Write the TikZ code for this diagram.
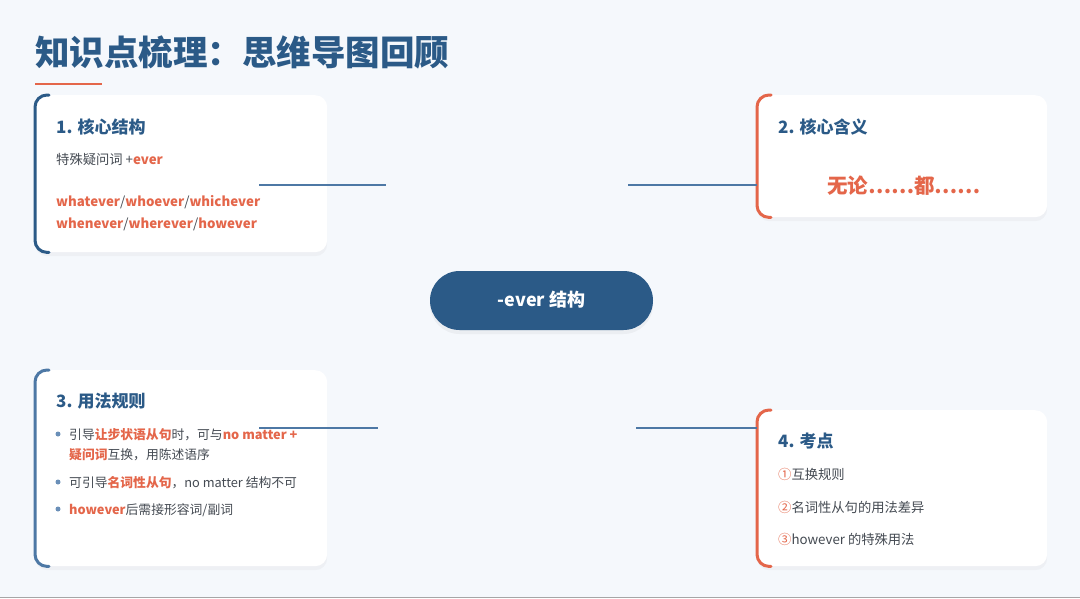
\documentclass[tikz,border=0pt]{standalone}
\usepackage{fontspec}
\setmainfont{Noto Sans CJK SC}
\usetikzlibrary{positioning,calc,shadows}
\definecolor{pagebg}{HTML}{F5F8FC}
\definecolor{navy}{HTML}{2B5A87}
\definecolor{linkblue}{HTML}{4D78A5}
\definecolor{accentor}{HTML}{E4664A}
\definecolor{inkgrey}{HTML}{444A52}
\definecolor{dotblue}{HTML}{6A8FB8}
\newcommand\hl[1]{\textcolor{accentor}{\textbf{#1}}}

\begin{document}
\begin{tikzpicture}[x=1pt, y=-1pt,
card/.style={fill=white, rounded corners=12pt, anchor=north west, inner sep=0pt,
  drop shadow={opacity=0.06, shadow xshift=0pt, shadow yshift=-4pt}},
edge/.style={line width=3pt, rounded corners=12pt, line cap=round},
link/.style={linkblue, line width=2.8pt},
head/.style={anchor=base west, inner sep=0pt, navy, font=\bfseries\fontsize{17}{20}\selectfont},
body/.style={anchor=base west, inner sep=0pt, inkgrey, font=\fontsize{13.3}{16}\selectfont},
dot/.style={circle, fill=dotblue, inner sep=0pt, minimum size=5pt}
]
\fill[pagebg] (0,0) rectangle (1080,598);
\useasboundingbox (0,0) rectangle (1080,598);
\draw[gray!70, line width=1.5pt] (0,597.5) -- (1080,597.5);

% title
\node[anchor=base west, inner sep=0pt, navy, font=\bfseries\fontsize{34.5}{38}\selectfont] (title) at (35,65) {知识点梳理：思维导图回顾};
\draw[accentor, line width=2.5pt] (35,84) -- (102,84);

% centre
\node[fill=navy, rounded corners=29.5pt, minimum width=223pt, minimum height=59pt, inner sep=0pt,
  drop shadow={opacity=0.08, shadow xshift=0pt, shadow yshift=-4pt}] (core) at (541.5,300.5) {};
\node[anchor=base, inner sep=0pt, white, font=\bfseries\fontsize{18}{22}\selectfont] (coretext) at (541.5,306.5) {-ever 结构};

% cards
\node[card, minimum width=292pt, minimum height=157pt] (c1) at (35,95) {};
\node[card, minimum width=290pt, minimum height=122pt] (c2) at (757,95) {};
\node[card, minimum width=292pt, minimum height=196pt] (c3) at (35,370) {};
\node[card, minimum width=290pt, minimum height=156pt] (c4) at (757,410) {};
\draw[edge, navy] ([xshift=14pt]c1.north west) -- (c1.north west) -- (c1.south west) -- ([xshift=14pt]c1.south west);
\draw[edge, accentor] ([xshift=14pt]c2.north west) -- (c2.north west) -- (c2.south west) -- ([xshift=14pt]c2.south west);
\draw[edge, linkblue] ([xshift=14pt]c3.north west) -- (c3.north west) -- (c3.south west) -- ([xshift=14pt]c3.south west);
\draw[edge, accentor] ([xshift=14pt]c4.north west) -- (c4.north west) -- (c4.south west) -- ([xshift=14pt]c4.south west);

% card 1
\node[head] (h1) at (56,133) {1. 核心结构};
\node[body] (s1) at (56,164) {特殊疑问词 +\hl{ever}};
\node[body] (w1) at (56,206) {\hl{whatever}/\hl{whoever}/\hl{whichever}};
\node[body] (w2) at (56,228) {\hl{whenever}/\hl{wherever}/\hl{however}};

% card 2
\node[head] (h2) at (778,133) {2. 核心含义};
\node[anchor=base, inner sep=0pt, accentor, font=\bfseries\fontsize{20.5}{24}\selectfont] (m2) at (904,193) {无论……都……};

% card 3
\node[head] (h3) at (56,407) {3. 用法规则};
\node[dot] (d1) at (58,434) {};
\node[dot] (d2) at (58,482) {};
\node[dot] (d3) at (58,509) {};
\node[body, font=\fontsize{12.8}{15}\selectfont] (r1) at (69,439) {引导\hl{让步状语从句}时，可与\hl{no matter +}};
\node[body, font=\fontsize{12.8}{15}\selectfont] (r1b) at (69,459) {\hl{疑问词}互换，用陈述语序};
\node[body, font=\fontsize{12.8}{15}\selectfont] (r2) at (69,487) {可引导\hl{名词性从句}，no matter 结构不可};
\node[body, font=\fontsize{12.8}{15}\selectfont] (r3) at (69,514) {\hl{however}后需接形容词/副词};

% card 4
\node[head] (h4) at (778,447) {4. 考点};
\node[body] (p1) at (778,479) {\textcolor{accentor}{①}互换规则};
\node[body] (p2) at (778,512) {\textcolor{accentor}{②}名词性从句的用法差异};
\node[body] (p3) at (778,544) {\textcolor{accentor}{③}however 的特殊用法};

% connectors
\coordinate (a1) at (259,185);
\coordinate (b1) at (386,185);
\coordinate (b2) at (628,185);
\coordinate (a3) at (259,428);
\coordinate (b3) at (378,428);
\coordinate (b4) at (636,428);
\draw[link] (a1) -- (b1);
\draw[link] (b2) -- (b2 -| c2.west);
\draw[link] (a3) -- (b3);
\draw[link] (b4) -- (b4 -| c4.west);
\end{tikzpicture}
\end{document}
